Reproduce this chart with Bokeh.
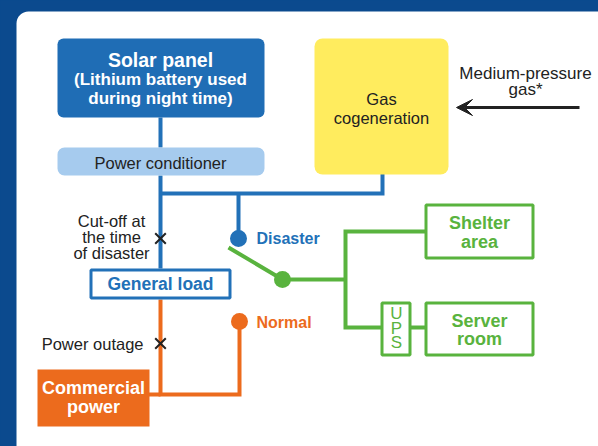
from bokeh.plotting import figure
from bokeh.models import Range1d, BoxAnnotation, Arrow, VeeHead
from bokeh.core.properties import value
from bokeh.embed import file_html
from bokeh.resources import INLINE

# ---------------- content ----------------
solar_lines = ["Solar panel", "(Lithium battery used", "during night time)"]
pc_label = "Power conditioner"
gas_lines = ["Gas", "cogeneration"]
gas_supply_lines = ["Medium-pressure", "gas*"]
cutoff_lines = ["Cut-off at", "the time", "of disaster"]
general_label = "General load"
outage_label = "Power outage"
commercial_lines = ["Commercial", "power"]
switch_labels = ["Disaster", "Normal"]
shelter_lines = ["Shelter", "area"]
ups_letters = ["U", "P", "S"]
server_lines = ["Server", "room"]

# ---------------- style ----------------
DARK = "#0b4a8e"
BLUE_BOX = "#1f6db5"
BLUE_LINE = "#2271b8"
LIGHT_BLUE = "#a6cbee"
YELLOW = "#ffec5e"
ORANGE = "#ec6b1d"
GREEN = "#59b33e"
INK = "#222222"
FONT = value("Liberation Sans")

W, H = 598, 446


def Y(y):
    return H - y


p = figure(width=W, height=H, x_range=Range1d(0, W), y_range=Range1d(0, H),
           x_axis_type=None, y_axis_type=None, toolbar_location=None,
           output_backend="svg", min_border=0, background_fill_color=DARK,
           border_fill_color=DARK, outline_line_color=None)

# white panel
p.add_layout(BoxAnnotation(left=16, right=700, top=Y(11), bottom=Y(520), fill_color="white",
                           fill_alpha=1, line_color=None, border_radius=12, level="underlay"))


def box(l, r, t, b, fill, line=None, lw=0, radius=0):
    inset = lw / 2.0
    p.add_layout(BoxAnnotation(left=l + inset, right=r - inset, top=Y(t + inset), bottom=Y(b - inset),
                               fill_color=fill, fill_alpha=1,
                               line_color=line, line_width=lw, line_alpha=1 if line else 0,
                               border_radius=radius, level="annotation"))


def line(xs, ys, color, lw=4):
    p.line(xs, [Y(v) for v in ys], line_color=color, line_width=lw, line_join="miter")


def text(x, y, t, size, color, bold=False, align="center"):
    p.text(x=[x], y=[Y(y)], text=[t], text_font=FONT, text_font_size=size,
           text_font_style="bold" if bold else "normal", text_color=color,
           text_align=align, text_baseline="middle", level="overlay")


# connecting lines
line([160, 160], [117, 147], BLUE_LINE)
line([160, 160], [175, 268], BLUE_LINE)
line([160, 382, 382], [193, 193, 172], BLUE_LINE)
line([238, 238], [193, 236], BLUE_LINE)
line([160, 160, 239, 239], [299, 394, 394, 323], ORANGE)
line([147, 160], [394, 394], ORANGE)
line([228, 282, 345], [247, 279, 279], GREEN)
line([426, 345, 345, 382], [231, 231, 327, 327], GREEN)
line([409, 426], [327, 327], GREEN)

# boxes
box(57, 264, 38, 117, BLUE_BOX, radius=6)
box(57, 264, 147, 175, LIGHT_BLUE, radius=7)
box(314, 448, 38, 174, YELLOW, radius=8)
box(89, 231, 268, 299, "white", BLUE_LINE, 3)
box(37, 149, 369, 426, ORANGE)
box(424, 534, 203, 259, "white", GREEN, 3)
box(380, 411, 301, 356, "white", GREEN, 3)
box(424, 534, 301, 356, "white", GREEN, 3)

# dots
p.scatter([238, 239, 282], [Y(238), Y(321), Y(279)], marker="circle", size=17,
          fill_color=[BLUE_LINE, ORANGE, GREEN], line_color=None, level="overlay")
# cut-off marks
p.scatter([160, 160], [Y(238), Y(343)], marker="x", size=15, line_color=INK,
          line_width=2, level="overlay")

# gas supply arrow
p.add_layout(Arrow(end=VeeHead(size=16, fill_color=INK, line_color=INK, line_width=1),
                   x_start=579, y_start=Y(107), x_end=456, y_end=Y(107),
                   line_color=INK, line_width=3, level="overlay"))

# texts
text(160, 59, solar_lines[0], "19.5px", "white", True)
text(160, 79, solar_lines[1], "17px", "white", True)
text(160, 98, solar_lines[2], "17px", "white", True)
text(160, 162, pc_label, "16.5px", INK)
text(381, 98, gas_lines[0], "16.5px", INK)
text(381, 117, gas_lines[1], "16.5px", INK)
text(525, 73, gas_supply_lines[0], "17px", INK)
text(525, 89, gas_supply_lines[1], "17px", INK)
for i, t in enumerate(cutoff_lines):
    text(111, 220 + 16 * i, t, "16.5px", INK)
text(160, 283, general_label, "17.5px", BLUE_LINE, True)
text(143, 343, outage_label, "16.5px", INK, align="right")
text(93, 387, commercial_lines[0], "18px", "white", True)
text(93, 406, commercial_lines[1], "18px", "white", True)
text(256, 238, switch_labels[0], "16px", BLUE_LINE, True, align="left")
text(256, 322, switch_labels[1], "16px", ORANGE, True, align="left")
text(479, 222, shelter_lines[0], "18px", GREEN, True)
text(479, 241, shelter_lines[1], "18px", GREEN, True)
for i, t in enumerate(ups_letters):
    text(396, 313 + 14.5 * i, t, "17px", GREEN)
text(479, 320, server_lines[0], "18px", GREEN, True)
text(479, 338, server_lines[1], "18px", GREEN, True)

html = file_html(p, INLINE, title="Power supply diagram",
                 template="{% block postamble %}<style>html,body{background:#0b4a8e;margin:0;}</style>{% endblock %}")
open("out.html", "w").write(html)
